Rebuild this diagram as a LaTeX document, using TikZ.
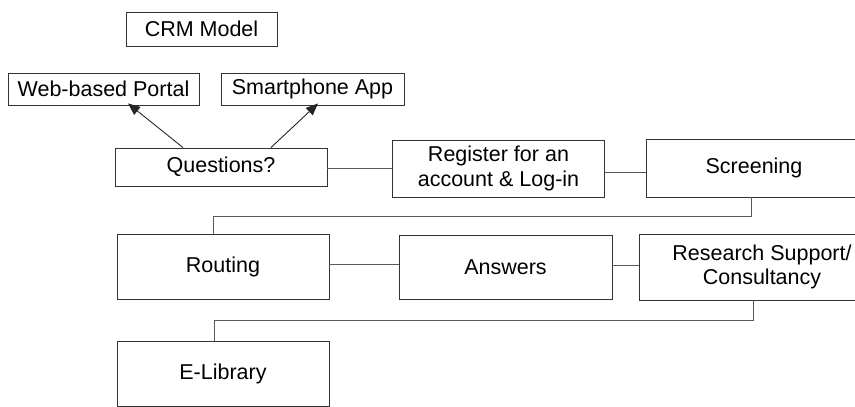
\documentclass[tikz,border=0pt]{standalone}
\usepackage{fontspec}
\setmainfont{Liberation Sans}
\usepackage{tikz}
\usetikzlibrary{arrows.meta,positioning,calc}

\begin{document}
\begin{tikzpicture}[
  x=1pt, y=-1pt,
  font=\fontsize{21.5}{24.5}\selectfont,
  >={Triangle[length=12pt,width=10pt]},
  every node/.style={align=center},
  box/.style={rectangle, draw=black!80, line width=0.9pt, inner sep=0pt, minimum width=#1},
  box/.default=212pt,
  link/.style={draw=black!65, line width=0.9pt},
  arr/.style={->, draw=black!85, line width=0.9pt}
]
  \useasboundingbox (0,0) rectangle (855,407);

  % Title
  \node[box=151pt, minimum height=34pt] (crm) at (201.5,29) {CRM Model};

  % Access channels
  \node[box=191pt, minimum height=32pt] (web) at (103.5,89) {Web-based Portal};
  \node[box=183pt, minimum height=32pt] (app) at (312.5,89) {Smartphone App};

  % First row
  \node[box, minimum height=38pt] (quest) at (221,167) {Questions?};
  \node[box, minimum height=57pt] (reg) at (498.5,168.5) {Register for an\\ account \& Log-in};
  \node[box=216pt, minimum height=58pt] (screen) at (754,168) {Screening};

  % Second row
  \node[box, minimum height=65pt] (routing) at (223,266.5) {Routing};
  \node[box=213pt, minimum height=64pt] (answers) at (505.5,267) {Answers};
  \node[box=246pt, minimum height=66pt] (research) at (762,267) {Research Support/\\ Consultancy};

  % Third row
  \node[box, minimum height=65pt] (elib) at (223,373.5) {E-Library};

  % Connecting lines
  \draw[arr] ([xshift=-38pt]quest.north) -- ([xshift=24.5pt,yshift=2pt]web.south);
  \draw[arr] ([xshift=50pt]quest.north) -- ([xshift=5.5pt,yshift=2pt]app.south);
  \draw[link] ([yshift=-1pt]quest.east) -- ([yshift=-1pt]quest.east -| reg.west);
  \draw[link] ([yshift=-4pt]reg.east) -- ([yshift=-4pt]reg.east -| screen.west);
  \draw[link] ([xshift=-3pt]screen.south) -- ++(0,19) -| ([xshift=-10pt]routing.north);
  \draw[link] ([yshift=2pt]routing.east) -- ([yshift=2pt]routing.east -| answers.west);
  \draw[link] ([yshift=2pt]answers.east) -- ([yshift=2pt]answers.east -| research.west);
  \draw[link] ([xshift=-9pt]research.south) -- ++(0,20) -| ([xshift=-9pt]elib.north);

\end{tikzpicture}
\end{document}
